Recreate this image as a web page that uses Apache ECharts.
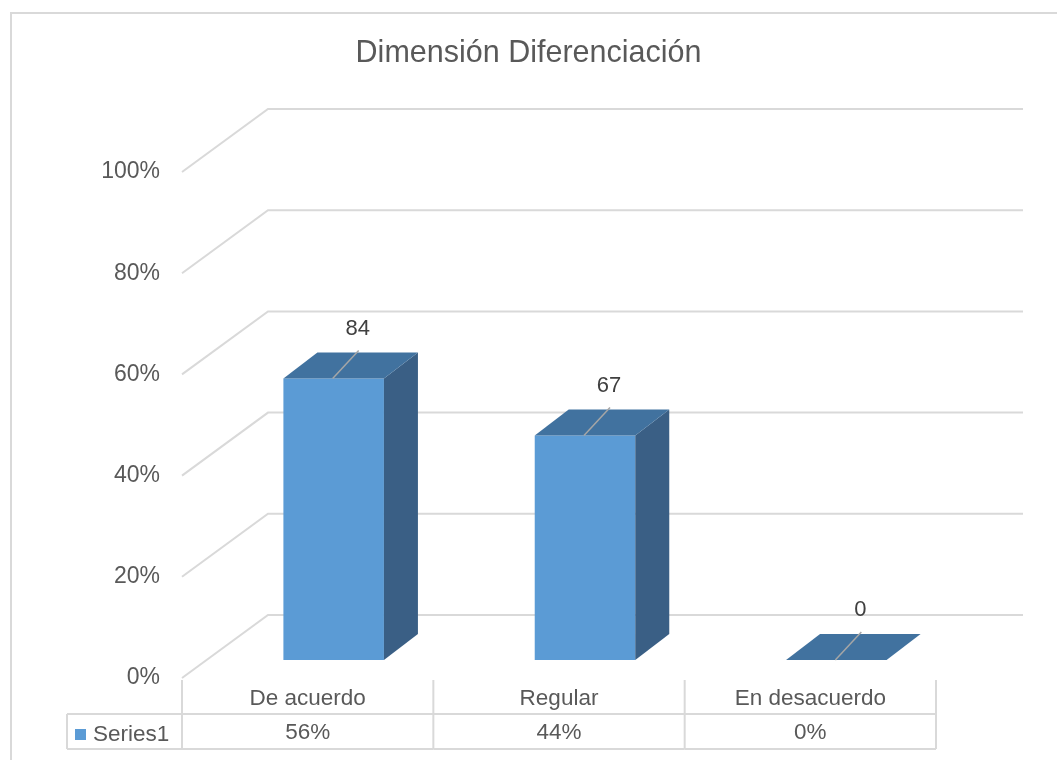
<!DOCTYPE html>
<html>
<head>
<meta charset="utf-8">
<title>Dimensión Diferenciación</title>
<script src="https://cdn.jsdelivr.net/npm/echarts@6/dist/echarts.min.js"></script>
<style>
  html, body { margin: 0; padding: 0; background: #ffffff; }
  #chart { width: 1057px; height: 760px; }
</style>
</head>
<body>
<div id="chart"></div>
<script>
// Survey answers for the "Diferenciación" dimension
const categories = ['De acuerdo', 'Regular', 'En desacuerdo'];
const counts = [84, 67, 0];
const seriesName = 'Series1';
const yTicks = [0, 0.2, 0.4, 0.6, 0.8, 1.0];

// Share of each answer, drawn as bar heights and printed in the data table
const total = counts.reduce((a, b) => a + b, 0);
const shares = counts.map(c => c / total);

const FONT = '"Liberation Sans", Arial, sans-serif';
const TEXT = '#595959';
const GRID_LINE = '#d9d9d9';

// Pseudo-3D offsets (pixels)
const WALL_DX = 86, WALL_DY = -63;     // depth of the back wall
const BAR_DX = 26, BAR_DY = -18;       // bar front face set into the floor
const DEPTH_DX = 34, DEPTH_DY = -26;   // bar thickness
const FRONT = '#5b9bd5', TOP = '#41729f', SIDE = '#3a5f85';

const chart = echarts.init(document.getElementById('chart'), null, { renderer: 'canvas' });

function bandEdges(api, i) {
  const c = api.coord([i, 0]);
  const band = api.size([1, 0])[0];
  return { center: c[0], left: c[0] - band / 2, right: c[0] + band / 2, base: c[1], band: band };
}

// Side wall diagonals and back wall gridlines
function renderWall(params, api) {
  const v = api.value(1);
  const first = bandEdges(api, 0);
  const last = bandEdges(api, categories.length - 1);
  const y = api.coord([0, v])[1];
  return {
    type: 'polyline',
    shape: { points: [
      [first.left, y],
      [first.left + WALL_DX, y + WALL_DY],
      [last.right + WALL_DX + 1, y + WALL_DY]
    ] },
    style: { stroke: GRID_LINE, lineWidth: 2, fill: null },
    silent: true
  };
}

// Boxes with front, top and side faces, plus a leader line and value label
function renderBar(params, api) {
  const i = api.value(0);
  const share = api.value(1);
  const count = api.value(2);
  const e = bandEdges(api, i);
  const w = e.band * 0.4;
  const x0 = e.center - w / 2 + BAR_DX;
  const yb = e.base + BAR_DY;
  const yt = api.coord([i, share])[1] + BAR_DY;
  const mid = x0 + w / 2;
  const children = [];
  if (yb - yt > 0.5) {
    children.push({
      type: 'rect',
      shape: { x: x0, y: yt, width: w, height: yb - yt },
      style: { fill: FRONT }
    });
    children.push({
      type: 'polygon',
      shape: { points: [[x0 + w, yt], [x0 + w + DEPTH_DX, yt + DEPTH_DY], [x0 + w + DEPTH_DX, yb + DEPTH_DY], [x0 + w, yb]] },
      style: { fill: SIDE }
    });
  }
  children.push({
    type: 'polygon',
    shape: { points: [[x0, yt], [x0 + w, yt], [x0 + w + DEPTH_DX, yt + DEPTH_DY], [x0 + DEPTH_DX, yt + DEPTH_DY]] },
    style: { fill: TOP }
  });
  children.push({
    type: 'line',
    shape: { x1: mid - 1, y1: yt, x2: mid + 25, y2: yt - 28 },
    style: { stroke: '#a6a6a6', lineWidth: 1.5 }
  });
  children.push({
    type: 'text',
    style: {
      text: String(count), x: mid + 24, y: yt - 50,
      align: 'center', verticalAlign: 'middle',
      font: '22px ' + FONT, fill: '#404040'
    }
  });
  return { type: 'group', children: children };
}

// Data table under the plot: borders and percentage row
function renderTable(params, api) {
  const i = api.value(0);
  const share = api.value(1);
  const e = bandEdges(api, i);
  const top = e.base + 2, mid = e.base + 36, bottom = e.base + 71;
  const line = (x1, y1, x2, y2) => ({
    type: 'line', shape: { x1, y1, x2, y2 },
    style: { stroke: GRID_LINE, lineWidth: 2 }
  });
  const children = [
    line(e.left, mid, e.right, mid),
    line(e.left, bottom, e.right, bottom),
    line(e.right, top, e.right, bottom),
    {
      type: 'text',
      style: {
        text: Math.round(share * 100) + '%', x: e.center, y: (mid + bottom) / 2 + 1,
        align: 'center', verticalAlign: 'middle',
        font: '22.5px ' + FONT, fill: TEXT
      }
    }
  ];
  if (i === 0) {
    const legendLeft = 67;
    children.push(line(e.left, top, e.left, bottom));
    children.push(line(legendLeft, mid, e.left, mid));
    children.push(line(legendLeft, bottom, e.left, bottom));
    children.push(line(legendLeft, mid, legendLeft, bottom));
  }
  return { type: 'group', children: children };
}

const option = {
  backgroundColor: '#ffffff',
  animation: false,
  title: {
    text: 'Dimensión Diferenciación',
    left: 'center',
    top: 33,
    textStyle: { fontFamily: FONT, fontSize: 30.5, fontWeight: 'normal', color: TEXT }
  },
  legend: {
    data: [seriesName],
    left: 75,
    top: 723,
    padding: 0,
    icon: 'rect',
    itemWidth: 11,
    itemHeight: 11,
    itemGap: 4,
    textStyle: { fontFamily: FONT, fontSize: 22.5, color: TEXT, padding: [0, 0, 0, 2] }
  },
  graphic: [{
    type: 'rect',
    shape: { x: 11, y: 13, width: 1100, height: 800 },
    style: { fill: null, stroke: GRID_LINE, lineWidth: 2 },
    silent: true,
    z: -10
  }],
  grid: { left: 182, right: 121, top: 172, bottom: 82, containLabel: false },
  xAxis: {
    type: 'category',
    data: categories,
    boundaryGap: true,
    axisLine: { show: false },
    axisTick: { show: false },
    splitLine: { show: false },
    axisLabel: { margin: 9, fontFamily: FONT, fontSize: 22.5, color: TEXT }
  },
  yAxis: {
    type: 'value',
    min: 0,
    max: 1,
    interval: 0.2,
    axisLine: { show: false },
    axisTick: { show: false },
    splitLine: { show: false },
    axisLabel: {
      margin: 22,
      fontFamily: FONT, fontSize: 23, color: TEXT,
      formatter: v => Math.round(v * 100) + '%'
    }
  },
  series: [
    {
      type: 'custom',
      name: 'wall',
      silent: true,
      z: 1,
      renderItem: renderWall,
      encode: { x: 0, y: 1 },
      data: yTicks.map(v => [0, v])
    },
    {
      type: 'custom',
      name: seriesName,
      z: 3,
      itemStyle: { color: FRONT },
      renderItem: renderBar,
      encode: { x: 0, y: 1 },
      data: shares.map((s, i) => [i, s, counts[i]])
    },
    {
      type: 'custom',
      name: 'table',
      silent: true,
      z: 2,
      renderItem: renderTable,
      encode: { x: 0, y: 1 },
      data: shares.map((s, i) => [i, s])
    }
  ]
};

chart.setOption(option);
</script>
</body>
</html>
